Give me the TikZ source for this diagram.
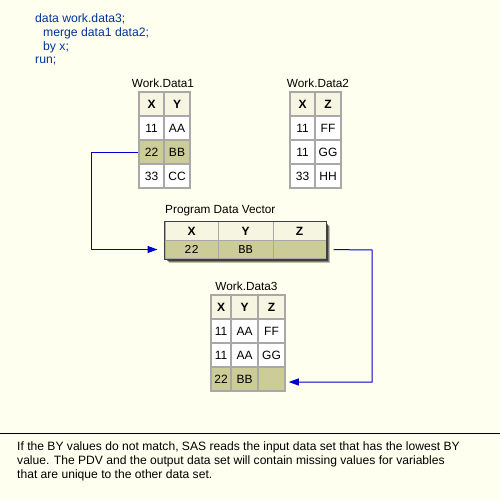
\documentclass[tikz,border=0pt]{standalone}
\usepackage{fontspec}
\setmainfont{Liberation Sans}
\newfontfamily\monof{Liberation Mono}
\usetikzlibrary{arrows.meta}
\definecolor{bg}{HTML}{FFFFF0}
\definecolor{hdr}{HTML}{F5F5E1}
\definecolor{hil}{HTML}{CCCC99}
\definecolor{codeblue}{HTML}{003399}
\definecolor{arrblue}{HTML}{0000CC}
\definecolor{grid}{HTML}{A8A8A8}
\definecolor{pdvline}{HTML}{404040}
\tikzset{
  cell/.style={draw=grid, line width=1.5pt, inner sep=0pt, fill=white,
    font=\fontsize{12}{14}\selectfont},
  hcell/.style={cell, fill=hdr, font=\fontsize{12}{14}\selectfont\bfseries},
  hlcell/.style={cell, fill=hil},
  ta/.style={minimum width=25pt, minimum height=24pt},
  tb/.style={minimum width=26pt, minimum height=24pt},
  tc/.style={minimum width=20pt, minimum height=24pt},
  td/.style={minimum width=27pt, minimum height=24pt},
  title/.style={font=\fontsize{11.8}{13}\selectfont, inner sep=0pt},
  code/.style={font=\fontsize{12.2}{13}\selectfont, text=codeblue, anchor=west, inner sep=0pt},
  pcell/.style={draw=grid, line width=1pt, inner sep=0pt, minimum height=18.5pt},
  conn/.style={draw=arrblue, line width=1pt, -{Triangle[length=10pt,width=7pt]}}
}
\begin{document}
\begin{tikzpicture}[x=1pt,y=-1pt]
\fill[bg] (0,0) rectangle (500,500);
\useasboundingbox (0,0) rectangle (500,500);

% code
\node[code] (c1) at (35,19) {data work.data3;};
\node[code] (c2) at (43,33) {merge data1 data2;};
\node[code] (c3) at (43,47) {by x;};
\node[code] (c4) at (35,61) {run;};

% Work.Data1
\node[title] (t1) at (163,83) {Work.Data1};
\node[hcell,ta] (a0x) at (151.5,104) {X};
\node[hcell,tb] (a0y) at (177,104) {Y};
\node[cell,ta] (a1x) at (151.5,128) {11};
\node[cell,tb] (a1y) at (177,128) {AA};
\node[hlcell,ta] (a2x) at (151.5,152) {22};
\node[hlcell,tb] (a2y) at (177,152) {BB};
\node[cell,ta] (a3x) at (151.5,176) {33};
\node[cell,tb] (a3y) at (177,176) {CC};

% Work.Data2
\node[title] (t2) at (318,83) {Work.Data2};
\node[hcell,ta] (b0x) at (302.5,104) {X};
\node[hcell,tb] (b0z) at (328,104) {Z};
\node[cell,ta] (b1x) at (302.5,128) {11};
\node[cell,tb] (b1z) at (328,128) {FF};
\node[cell,ta] (b2x) at (302.5,152) {11};
\node[cell,tb] (b2z) at (328,152) {GG};
\node[cell,ta] (b3x) at (302.5,176) {33};
\node[cell,tb] (b3z) at (328,176) {HH};

% Program Data Vector
\node[title, anchor=west] (tp) at (165,211) {Program Data Vector};
\foreach \k/\o in {4/0.25,3/0.35,2/0.5}{
  \fill[black, opacity=\o] (165+\k,222+\k) rectangle (326+\k,259+\k);
}
\node[pcell, fill=hdr, minimum width=53pt, font=\fontsize{12}{14}\selectfont\bfseries] (p0x) at (191.5,231) {X};
\node[pcell, fill=hdr, minimum width=55pt, font=\fontsize{12}{14}\selectfont\bfseries] (p0y) at (245.5,231) {Y};
\node[pcell, fill=hdr, minimum width=53pt, font=\fontsize{12}{14}\selectfont\bfseries] (p0z) at (299.5,231) {Z};
\node[pcell, fill=hil, minimum width=53pt, font=\monof\fontsize{12}{14}\selectfont] (p1x) at (191.5,249.5) {22};
\node[pcell, fill=hil, minimum width=55pt, font=\monof\fontsize{12}{14}\selectfont] (p1y) at (245.5,249.5) {BB};
\node[pcell, fill=hil, minimum width=53pt, font=\monof\fontsize{12}{14}\selectfont] (p1z) at (299.5,249.5) {};
\draw[pdvline, line width=1.5pt] (p0x.north west) rectangle (p1z.south east);

% Work.Data3
\node[title] (t3) at (246.5,286) {Work.Data3};
\node[hcell,tc] (d0x) at (221,307) {X};
\node[hcell,td] (d0y) at (244.5,307) {Y};
\node[hcell,td] (d0z) at (271.5,307) {Z};
\node[cell,tc] (d1x) at (221,331) {11};
\node[cell,td] (d1y) at (244.5,331) {AA};
\node[cell,td] (d1z) at (271.5,331) {FF};
\node[cell,tc] (d2x) at (221,355) {11};
\node[cell,td] (d2y) at (244.5,355) {AA};
\node[cell,td] (d2z) at (271.5,355) {GG};
\node[hlcell,tc] (d3x) at (221,379) {22};
\node[hlcell,td] (d3y) at (244.5,379) {BB};
\node[hlcell,td] (d3z) at (271.5,379) {};

% connectors
\coordinate (lturn) at (91,152);
\coordinate (rturn) at (372,250);
\draw[conn, shorten >=7pt] (a2x.west) -- (lturn) |- (p1x.west);
\draw[conn, shorten <=7pt, shorten >=3pt] (p1z.east) -- (rturn) |- ([yshift=-3pt]d3z.east);

% rule and caption
\coordinate (rl) at (0,433);
\coordinate (rr) at (500,433);
\draw[black, line width=1pt] (rl) -- (rr);
\node[anchor=north west, inner sep=0pt, align=left, font=\fontsize{12.1}{13.6}\selectfont] (cap) at (17,442)
{If the BY values do not match, SAS reads the input data set that has the lowest BY\\
value. The PDV and the output data set will contain missing values for variables\\
that are unique to the other data set.};
\end{tikzpicture}
\end{document}
